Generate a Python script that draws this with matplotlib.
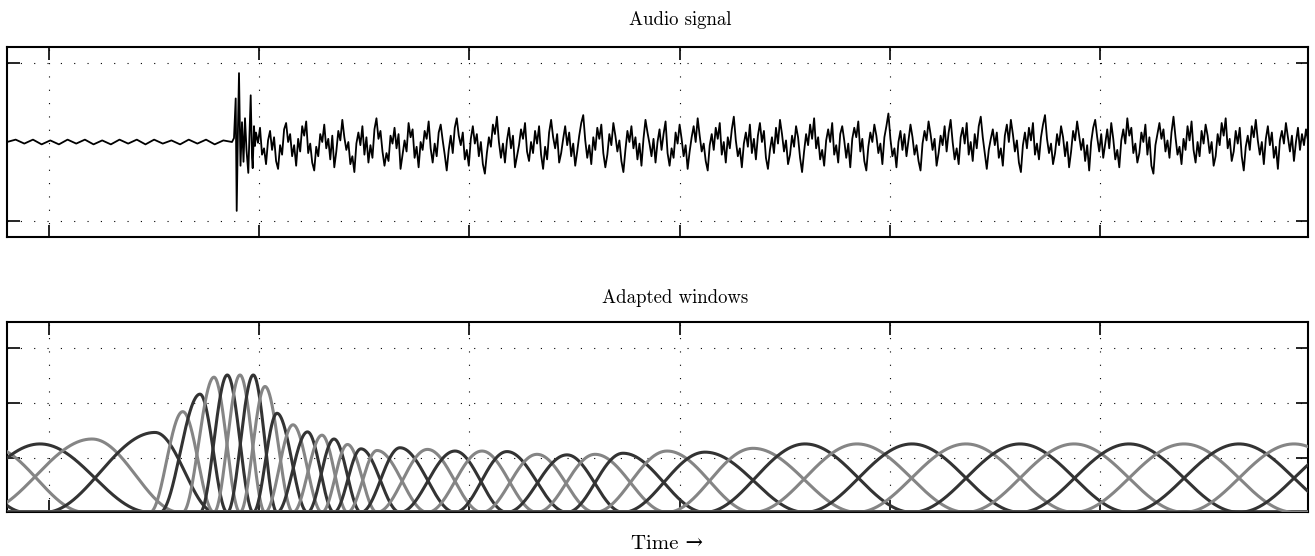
import numpy as np
import matplotlib.pyplot as plt

plt.rcParams['font.family'] = ['cmr10', 'DejaVu Serif']
plt.rcParams['axes.formatter.use_mathtext'] = True

# time axis in arbitrary units
x_lim = (7, 1308)
x_ticks = np.arange(49, 1101, 210.2)

# quiet part before the attack
pre_t = np.linspace(7, 232, 27)
pre_v = [0.0, 0.03, -0.02, 0.03, -0.03, 0.02, -0.03, 0.03, -0.02, 0.03, -0.03, 0.02, -0.03, 0.03,
         -0.02, 0.03, -0.03, 0.03, -0.02, 0.02, -0.03, 0.03, -0.02, 0.03, -0.03, 0.02, 0.0]

# attack
burst_t = [234, 235.7, 236.7, 238, 239, 240.5, 242, 243.5, 245, 246.5, 248.3, 249.5, 250.7, 252, 252.7, 254, 255]
burst_v = [0.05, 0.55, -0.87, 0.2, 0.87, -0.3, 0.25, -0.25, 0.3, -0.1, -0.39, 0.1, 0.59, -0.2, -0.33, 0.2, -0.05]

# steady part
noise_v = [
    0.18, 0.05, 0.24, -0.10, -0.02, -0.22, 0.08, 0.20, -0.04, 0.12, -0.18, -0.28, 0.02, -0.10, 0.22, 0.30, 0.06, 0.16, -0.12, 0.02, -0.24, 0.10, -0.06, 0.26, 0.14,
    0.32, -0.08, 0.04, -0.20, -0.30, 0.00, -0.12, 0.16, 0.06, 0.28, -0.02, 0.10, -0.16, 0.14, -0.26, -0.06, 0.20, 0.08, 0.34, 0.12, -0.04, 0.06, -0.22, -0.12, -0.32,
    0.04, 0.18, 0.02, 0.26, -0.10, 0.12, -0.20, 0.02, -0.14, 0.22, 0.36, 0.10, 0.20, -0.06, -0.24, -0.08, -0.18, 0.14, 0.04, 0.24, -0.02, 0.16, -0.28, -0.10, 0.08,
    -0.06, 0.30, 0.12, 0.22, -0.14, 0.00, -0.26, 0.06, -0.04, 0.20, 0.10, 0.32, -0.02, -0.20, 0.04, -0.12, 0.18, 0.28, 0.08, -0.10, -0.30, -0.04, 0.14, -0.08, 0.24,
    0.36, 0.14, 0.02, 0.18, -0.16, -0.04, -0.24, 0.10, 0.26, 0.04, 0.16, -0.12, 0.06, -0.22, -0.34, -0.08, 0.12, 0.00, 0.28, 0.16, 0.38, 0.06, -0.14, 0.04, -0.20,
    0.08, 0.24, -0.02, 0.14, -0.26, -0.12, 0.02, 0.22, 0.10, 0.30, -0.06, -0.18, 0.06, -0.08, 0.20, 0.04, 0.26, -0.10, -0.28, 0.00, -0.16, 0.18, 0.34, 0.12, -0.02,
    0.16, -0.20, -0.08, 0.10, 0.26, 0.02, 0.18, -0.12, 0.04, -0.24, -0.06, 0.14, 0.30, 0.40, 0.08, -0.14, 0.02, -0.22, 0.12, -0.04, 0.24, 0.10, 0.28, -0.08, -0.26,
    -0.10, 0.16, 0.02, 0.30, 0.14, -0.06, 0.08, -0.18, -0.32, -0.04, 0.20, 0.06, 0.26, -0.02, 0.12, -0.16, 0.04, -0.24, 0.10, 0.34, 0.18, 0.04, -0.12, 0.10, -0.20,
    0.06, 0.22, -0.04, 0.16, 0.32, -0.08, -0.24, -0.02, -0.14, 0.18, 0.04, 0.28, 0.10, -0.12, 0.02, -0.28, -0.06, 0.12, 0.26, 0.06, 0.36, 0.14, -0.06, 0.04, -0.18,
    -0.30, 0.02, 0.16, -0.04, 0.24, 0.10, 0.30, -0.10, 0.06, -0.20, 0.12, -0.02, 0.22, 0.38, 0.08, -0.12, -0.02, -0.26, 0.04, 0.18, 0.00, 0.28, -0.08, 0.10, -0.16,
    0.14, 0.30, 0.06, 0.20, -0.14, -0.28, -0.04, 0.12, -0.08, 0.24, 0.04, 0.34, 0.16, -0.06, 0.08, -0.22, -0.10, 0.14, 0.00, 0.26, 0.12, -0.14, -0.32, -0.06, 0.16,
    0.02, 0.28, 0.10, 0.36, -0.02, 0.12, -0.16, -0.04, -0.24, 0.08, 0.22, 0.06, 0.30, -0.10, 0.02, -0.20, 0.16, 0.26, 0.08, -0.14, 0.04, -0.26, 0.10, 0.24, 0.12,
    0.32, -0.06, 0.10, -0.18, -0.30, 0.00, 0.18, 0.06, 0.28, 0.14, -0.08, 0.04, -0.22, 0.12, 0.26, 0.42, 0.10, -0.12, -0.02, -0.26, 0.06, 0.20, -0.04, 0.16, -0.12,
    0.08, 0.28, 0.12, -0.10, 0.02, -0.18, -0.30, 0.04, 0.20, 0.08, 0.32, 0.16, -0.04, 0.10, -0.24, -0.08, 0.14, 0.02, 0.26, -0.06, 0.18, 0.34, 0.06, -0.16, -0.02,
    -0.22, 0.12, 0.24, 0.04, 0.30, -0.10, 0.06, -0.18, 0.16, -0.02, 0.26, 0.38, 0.12, -0.08, -0.28, -0.04, 0.10, 0.22, 0.02, 0.18, -0.14, -0.02, -0.24, 0.14, 0.28,
    0.06, 0.34, 0.16, -0.06, 0.08, -0.20, -0.32, 0.02, 0.18, -0.02, 0.24, 0.08, 0.30, -0.10, 0.04, -0.16, 0.12, 0.28, 0.40, 0.10, -0.08, 0.04, -0.22, -0.08, 0.16,
    0.02, 0.26, 0.12, -0.12, 0.06, -0.26, -0.06, 0.20, 0.08, 0.32, 0.14, -0.04, 0.10, -0.18, 0.02, -0.30, 0.06, 0.24, 0.34, 0.12, -0.06, 0.16, -0.14, 0.04, 0.22,
    -0.02, 0.30, 0.10, -0.16, -0.04, -0.26, 0.08, 0.22, 0.04, 0.36, 0.14, 0.24, -0.08, 0.04, -0.20, -0.08, 0.18, 0.06, 0.28, -0.10, 0.12, -0.24, -0.34, 0.02, 0.16,
    0.30, 0.10, 0.22, -0.06, 0.08, -0.14, 0.18, 0.38, 0.12, -0.10, 0.00, -0.22, 0.10, -0.04, 0.26, 0.08, 0.32, -0.04, -0.20, 0.06, -0.12, 0.20, 0.04, 0.28, 0.14,
    -0.08, 0.06, -0.24, -0.12, 0.16, 0.02, 0.30, 0.14, 0.36, -0.02, 0.10, -0.18, -0.06, 0.20, 0.04, 0.24, -0.12, -0.30, 0.00, 0.14, -0.04, 0.26, 0.12, 0.34, 0.08,
    -0.10, 0.06, -0.22, 0.10, 0.26, 0.02, 0.18, -0.14, 0.00, -0.28, 0.08, 0.20, 0.04, 0.30, 0.12, -0.06, 0.14, -0.18, 0.06, 0.24, -0.04, 0.16, 0.02, 0.22, 0.08]
noise_t = np.linspace(256, 1308, len(noise_v))
noise_dc = 0.06  # the hand-read values sit a little high

# adapted windows: peak position, start, end, peak height
win_center = [-63, -10, 40, 92, 155, 182.7, 200, 214, 227.3, 240, 253.3, 265, 277, 293, 307.5, 322, 334,
              347.5, 361, 377, 400, 427.5, 455, 482, 507, 537, 567, 595, 623, 667, 705, 753, 805,
              857, 912, 966, 1020, 1074, 1129, 1184, 1239, 1294, 1349]
win_start = [-172, -118, -70, -20, 45, 150, 160, 182.7, 200, 214, 227.3, 240, 253.3, 265, 277, 293, 307.5,
             322, 334, 347.5, 361, 377, 400, 427.5, 455, 482, 507, 537, 567, 595, 623, 667, 705,
             753, 805, 857, 912, 966, 1020, 1074, 1129, 1184, 1239]
win_end = [25, 85, 150, 180, 215, 214, 227.3, 240, 253.3, 265, 277, 293, 307.5, 322, 334, 347.5, 361,
           377, 400, 427.5, 455, 482, 507, 537, 567, 595, 623, 667, 705, 753, 805, 857, 912,
           966, 1020, 1074, 1129, 1184, 1239, 1294, 1349, 1404, 1459]
win_height = [1.25, 1.2, 1.25, 1.34, 1.46, 1.84, 2.16, 2.47, 2.51, 2.51, 2.51, 2.30, 1.81, 1.60, 1.47, 1.41, 1.34,
              1.24, 1.16, 1.13, 1.18, 1.15, 1.12, 1.12, 1.11, 1.06, 1.05, 1.06, 1.08, 1.12, 1.10, 1.17, 1.25,
              1.25, 1.25, 1.25, 1.25, 1.25, 1.25, 1.25, 1.25, 1.25, 1.25]
win_colors = ['#333333', '#858585']


def style_axes(ax, yticks):
    ax.set_xlim(x_lim)
    ax.set_xticks(x_ticks)
    ax.set_yticks(yticks)
    ax.grid(True, color='k', linestyle=(0, (1, 11)), linewidth=0.8)
    ax.tick_params(direction='in', length=9, width=1.2, top=True, right=True,
                   labelbottom=False, labelleft=False)
    for s in ax.spines.values():
        s.set_linewidth(1.5)


fig = plt.figure(figsize=(13.15, 5.56), dpi=100)
ax1 = fig.add_axes([7 / 1315, 1 - 237 / 556, 1301 / 1315, 190 / 556])
ax2 = fig.add_axes([7 / 1315, 1 - 512.3 / 556, 1301 / 1315, 189.8 / 556])

# audio signal
sig_t = np.concatenate([pre_t, burst_t, noise_t])
sig_v = np.concatenate([pre_v, burst_v, np.array(noise_v) - noise_dc])
ax1.plot(sig_t, sig_v, color='k', lw=1.3)
ax1.set_ylim(-1.2, 1.2)
style_axes(ax1, [-1, 1])

# windows (raised-cosine halves), drawn over the whole range, zero outside support
t = np.linspace(x_lim[0], x_lim[1], 5000)
for k in range(len(win_center)):
    a, c, b = win_start[k], win_center[k], win_end[k]
    w = np.zeros_like(t)
    up = (t >= a) & (t <= c)
    dn = (t > c) & (t <= b)
    w[up] = np.sin(np.pi / 2 * (t[up] - a) / (c - a)) ** 2
    w[dn] = np.cos(np.pi / 2 * (t[dn] - c) / (b - c)) ** 2
    ax2.plot(t, win_height[k] * w, color=win_colors[k % 2], lw=2.2, zorder=3)
ax2.set_ylim(0, 3.47)
style_axes(ax2, [1, 2, 3])

fig.text(680 / 1315, 1 - 20 / 556, 'Audio signal', ha='center', va='center', fontsize=13.5)
fig.text(675 / 1315, 1 - 298 / 556, 'Adapted windows', ha='center', va='center', fontsize=13.5)
fig.text(667 / 1315, 1 - 544 / 556, 'Time \u2192', ha='center', va='center', fontsize=15)

fig.savefig('out.png', dpi=100)
